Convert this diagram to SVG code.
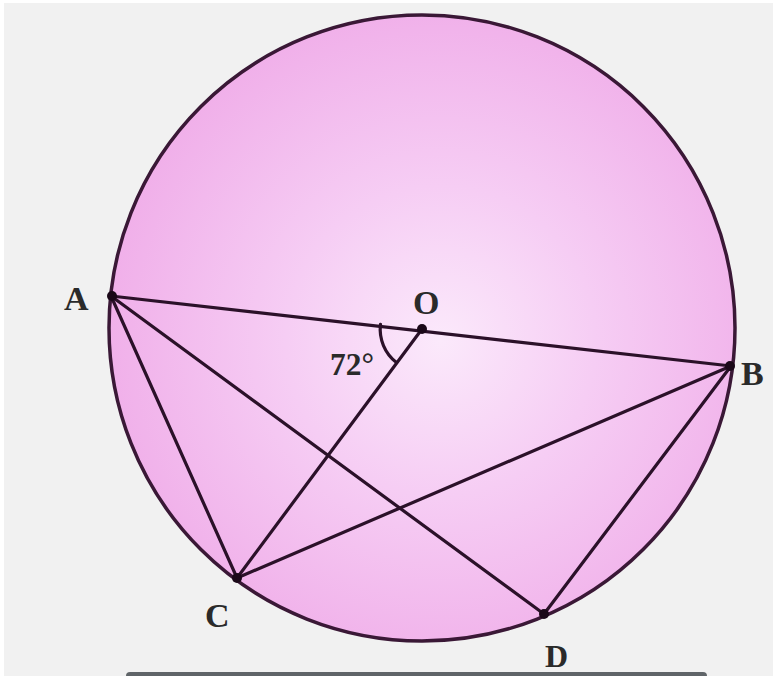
<svg xmlns="http://www.w3.org/2000/svg" width="773" height="676" viewBox="0 0 773 676">
<defs>
<radialGradient id="pink" cx="0.53" cy="0.52" r="0.55">
<stop offset="0" stop-color="#fbe9fb"/>
<stop offset="0.45" stop-color="#f6cdf4"/>
<stop offset="1" stop-color="#f0aee9"/>
</radialGradient>
<style>
.ln{stroke:#2b1129;stroke-width:3.2;fill:none;stroke-linecap:round}
.pt{fill:#1a0818}
.lb{font-family:"Liberation Serif","Times New Roman",serif;font-weight:bold;fill:#2a2a2a}
</style>
</defs>
<rect x="0" y="0" width="773" height="676" fill="#ffffff"/>
<rect x="4" y="3" width="769" height="673" fill="#f1f1f1"/>
<rect x="126" y="672" width="581" height="20" rx="4" fill="#5f6468"/>
<g id="circle">
<circle cx="422" cy="328" r="313" fill="url(#pink)" stroke="#3a1836" stroke-width="3.5"/>
</g>
<g id="connectors">
<line class="ln" x1="111" y1="296" x2="731" y2="366"/>
<line class="ln" x1="111" y1="296" x2="237" y2="578"/>
<line class="ln" x1="111" y1="296" x2="544" y2="614"/>
<line class="ln" x1="422" y1="329" x2="237" y2="578"/>
<line class="ln" x1="237" y1="578" x2="731" y2="366"/>
<line class="ln" x1="731" y1="366" x2="544" y2="614"/>
<path class="ln" d="M380.5 324.3 A42 42 0 0 0 396.5 362.5" stroke-width="2.6"/>
</g>
<g id="A"><circle class="pt" cx="112" cy="296" r="5"/><text class="lb" x="64" y="310" font-size="34">A</text></g>
<g id="O"><circle class="pt" cx="422" cy="329" r="5"/><text class="lb" x="413" y="314" font-size="34">O</text></g>
<g id="B"><circle class="pt" cx="730" cy="366" r="5"/><text class="lb" x="741" y="385" font-size="34">B</text></g>
<g id="C"><circle class="pt" cx="237" cy="578" r="5"/><text class="lb" x="205" y="627" font-size="34">C</text></g>
<g id="D"><circle class="pt" cx="544" cy="614" r="5"/><text class="lb" x="545" y="667" font-size="32">D</text></g>
<g id="angle"><text class="lb" x="330" y="375" font-size="32" textLength="44" lengthAdjust="spacingAndGlyphs">72°</text></g>
</svg>
